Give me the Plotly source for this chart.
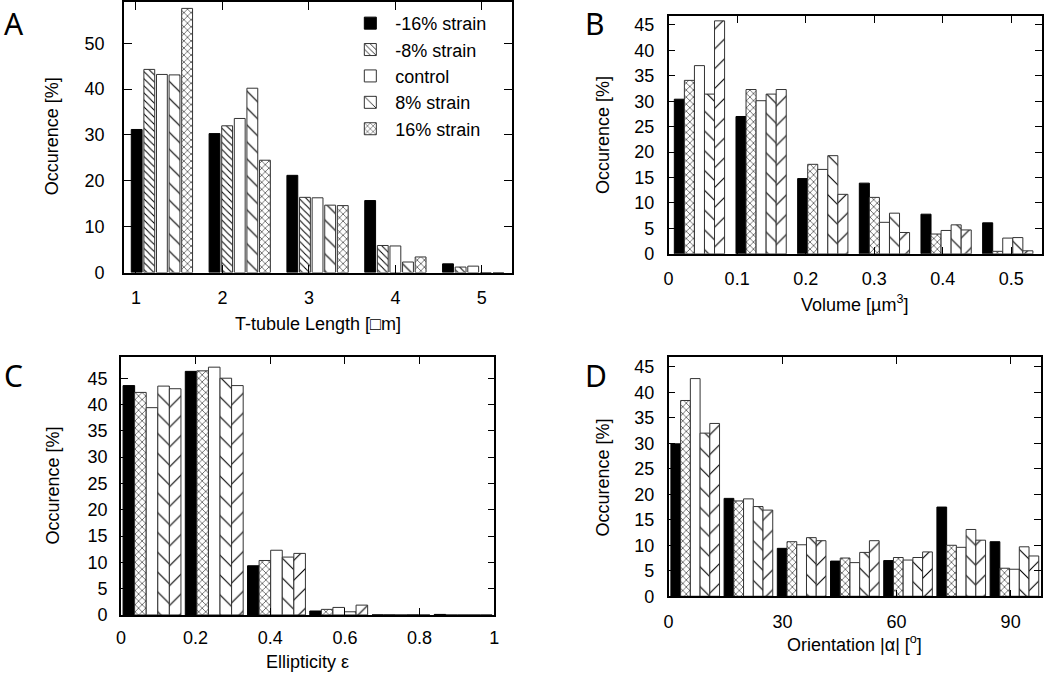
import plotly.graph_objects as go

W, H = 1050, 683

# ---------------- data ----------------
series_names = ["-16% strain", "-8% strain", "control", "8% strain", "16% strain"]

# Panel A: T-tubule length
length_bins = [1.3, 2.2, 3.1, 4.0, 4.9]
length_m16 = [31.2, 30.3, 21.2, 15.7, 1.9]
length_m8 = [44.3, 32.0, 16.4, 5.9, 1.2]
length_ctrl = [43.2, 33.6, 16.3, 5.8, 1.4]
length_p8 = [43.1, 40.2, 14.7, 2.3, 0.0]
length_p16 = [57.6, 24.5, 14.6, 3.4, 0.0]

# Panel B: volume
volume_bins = [0.045, 0.135, 0.225, 0.315, 0.405, 0.495]
volume_s1 = [30.4, 27.0, 14.8, 13.9, 7.8, 6.1]
volume_s2 = [34.1, 32.3, 17.6, 11.1, 3.9, 0.5]
volume_s3 = [37.0, 30.1, 16.6, 6.2, 4.6, 3.1]
volume_s4 = [31.4, 31.4, 19.3, 8.0, 5.7, 3.2]
volume_s5 = [45.8, 32.3, 11.7, 4.2, 4.7, 0.6]

# Panel C: ellipticity
ellip_bins = [1/12, 3/12, 5/12, 7/12, 9/12, 11/12]
ellip_s1 = [43.6, 46.3, 9.35, 0.75, 0.0, 0.1]
ellip_s2 = [42.3, 46.4, 10.35, 1.06, 0.05, 0.0]
ellip_s3 = [39.4, 47.1, 12.3, 1.43, 0.0, 0.0]
ellip_s4 = [43.5, 45.0, 11.0, 0.6, 0.05, 0.0]
ellip_s5 = [43.0, 43.6, 11.7, 1.87, 0.0, 0.0]

# Panel D: orientation
orient_bins = [7, 21, 35, 49, 63, 77, 91]
orient_s1 = [29.9, 19.2, 9.4, 6.9, 7.0, 17.5, 10.7]
orient_s2 = [38.4, 18.7, 10.7, 7.5, 7.6, 10.0, 5.5]
orient_s3 = [42.7, 19.1, 10.1, 6.6, 7.1, 9.6, 5.3]
orient_s4 = [32.0, 17.6, 11.5, 8.6, 7.6, 13.1, 9.7]
orient_s5 = [33.9, 16.9, 10.9, 10.9, 8.7, 11.0, 7.9]

# ---------------- styles ----------------
FONT = "Liberation Sans, Arial, Helvetica, sans-serif"
LETTER_FONT = "Noto Sans, Open Sans, sans-serif"
EDGE = "#333333"

def pat(shape, size, solidity=0.12):
    if shape == "solid":
        return dict(color="black", line=dict(color="black", width=1))
    if shape == "white":
        return dict(color="white", line=dict(color=EDGE, width=1))
    return dict(color="white", line=dict(color=EDGE, width=1),
                pattern=dict(shape=shape, fgcolor="black", bgcolor="white",
                             size=size, solidity=solidity, fillmode="replace"))

styles_A = [pat("solid", 0), pat("\\", 5, 0.2), pat("white", 0), pat("\\", 12, 0.1), pat("x", 5, 0.2)]
styles_BCD = [pat("solid", 0), pat("x", 5, 0.2), pat("white", 0), pat("\\", 14, 0.08), pat("/", 14, 0.08)]

fig = go.Figure()

def add_panel(xref, yref, bins, values, styles, spacing, frac, gap, legend):
    n = len(values)
    slot = spacing * frac / n
    for i, (vals, st) in enumerate(zip(values, styles)):
        fig.add_trace(go.Bar(
            x=bins, y=vals, name=series_names[i],
            xaxis=xref, yaxis=yref,
            offset=-spacing * frac / 2 + i * slot + slot * gap / 2,
            width=slot * (1 - gap),
            marker=st, showlegend=legend, legendgroup=series_names[i],
        ))

add_panel("x", "y", length_bins,
          [length_m16, length_m8, length_ctrl, length_p8, length_p16],
          styles_A, 0.9, 0.81, 0.14, True)
add_panel("x2", "y2", volume_bins,
          [volume_s1, volume_s2, volume_s3, volume_s4, volume_s5],
          styles_BCD, 0.09, 0.815, 0.0, False)
add_panel("x3", "y3", ellip_bins,
          [ellip_s1, ellip_s2, ellip_s3, ellip_s4, ellip_s5],
          styles_BCD, 1/6, 0.93, 0.0, False)
add_panel("x4", "y4", orient_bins,
          [orient_s1, orient_s2, orient_s3, orient_s4, orient_s5],
          styles_BCD, 14, 0.914, 0.0, False)

def px_x(p):
    return p / W

def px_y(p):
    return 1 - p / H

def axis(domain, rng, tickvals, ticklen, anchor, standoff):
    return dict(domain=domain, range=rng, tickvals=tickvals, anchor=anchor,
                showline=True, linecolor="black", linewidth=1.5, mirror="allticks",
                ticks="inside", ticklen=ticklen, tickwidth=1.3, tickcolor="black",
                showgrid=False, zeroline=False, ticklabelstandoff=standoff,
                tickfont=dict(family=FONT, size=18, color="black"), fixedrange=True)

# panel pixel boxes: (left, right, top, bottom)
boxA = (120, 512, 1, 276)
boxB = (670, 1047, 15, 257)
boxC = (117, 494, 362, 624)
boxD = (670, 1046, 362, 605)

def dom(box):
    l, r, t, b = box
    return [px_x(l), px_x(r)], [px_y(b), px_y(t)]

dAx, dAy = dom(boxA)
dBx, dBy = dom(boxB)
dCx, dCy = dom(boxC)
dDx, dDy = dom(boxD)

fig.update_layout(
    width=W, height=H,
    margin=dict(l=0, r=0, t=0, b=0),
    paper_bgcolor="white", plot_bgcolor="white",
    barmode="overlay",
    xaxis=axis(dAx, [0.86, 5.35], [1, 2, 3, 4, 5], 8, "y", 8),
    yaxis=axis(dAy, [0, 59], [0, 10, 20, 30, 40, 50], 8, "x", 14),
    xaxis2=axis(dBx, [0, 0.545], [0, 0.1, 0.2, 0.3, 0.4, 0.5], 7, "y2", 8),
    yaxis2=axis(dBy, [0, 46.8], [0, 5, 10, 15, 20, 25, 30, 35, 40, 45], 7, "x2", 9),
    xaxis3=axis(dCx, [0, 1], [0, 0.2, 0.4, 0.6, 0.8, 1], 7, "y3", 6),
    yaxis3=axis(dCy, [0, 49], [0, 5, 10, 15, 20, 25, 30, 35, 40, 45], 7, "x3", 8),
    xaxis4=axis(dDx, [0, 98], [0, 30, 60, 90], 7, "y4", 8),
    yaxis4=axis(dDy, [0, 46.9], [0, 5, 10, 15, 20, 25, 30, 35, 40, 45], 7, "x4", 9),
    legend=dict(x=px_x(492), y=px_y(4), xanchor="right", yanchor="top",
                bgcolor="rgba(0,0,0,0)", font=dict(family=FONT, size=18, color="black"),
                traceorder="normal", itemwidth=40, tracegroupgap=0),
    showlegend=True,
)

annotations = []

def text(x, y, s, size=18, family=FONT, angle=0):
    annotations.append(dict(x=px_x(x), y=px_y(y), xref="paper", yref="paper",
                            text=s, showarrow=False, textangle=angle,
                            font=dict(family=family, size=size, color="black"),
                            xanchor="center", yanchor="middle"))

# panel letters
text(9, 23, "A", 30, LETTER_FONT)
text(596, 23, "B", 30, LETTER_FONT)
text(9, 381, "C", 30, LETTER_FONT)
text(597, 381, "D", 30, LETTER_FONT)

# axis titles
text(316, 328, "T-tubule Length [□m]")
text(47, 138, "Occurence [%]", angle=-90)
text(858, 307, "Volume [µm<sup>3</sup>]")
text(604, 136, "Occurence [%]", angle=-90)
text(305, 672, "Ellipticity ε")
text(49, 493, "Occurence [%]", angle=-90)
text(858, 653, "Orientation |α| [<sup>o</sup>]")
text(604, 484, "Occurence [%]", angle=-90)

fig.update_layout(annotations=annotations)

fig.write_html("out.html", config={"displayModeBar": False},
               post_script="document.body.style.margin='0';document.body.style.overflow='hidden';")
